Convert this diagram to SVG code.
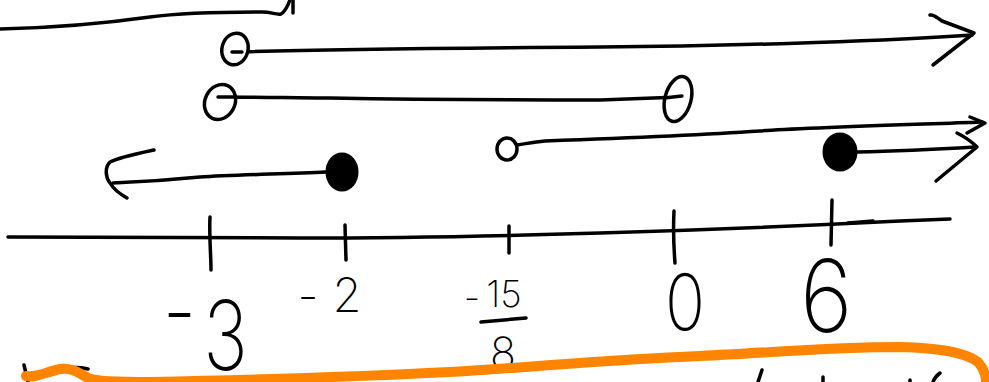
<svg xmlns="http://www.w3.org/2000/svg" width="989" height="382" viewBox="0 0 989 382">
<style>
.ink{fill:none;stroke:#000;stroke-width:3.5;stroke-linecap:round;stroke-linejoin:round}
.open{fill:#fff;stroke:#000;stroke-width:3.5}
.dot{fill:#000;stroke:#000;stroke-width:3}
.hl{fill:none;stroke:#ff8500;stroke-width:10;stroke-linecap:round;stroke-linejoin:round}
.lbl{font-family:Inter,"Liberation Sans",sans-serif;font-weight:200;fill:#000;text-anchor:middle}
</style>
<rect width="989" height="382" fill="#fff"/>
<g id="connectors">
  <path class="ink" d="M0,29 C50,28 100,24 150,17 C180,13 230,12 262,12 C272,12 276,15 281,14 C285,12 287,8 290,0"/>
  <path class="ink" d="M293,0 L293,13"/>
  <path class="ink" d="M240,52 C300,50 450,48 600,47 S900,40 972,35"/>
  <path class="ink" d="M930,15 C934,14 937,18 942,21 L974,33 L933,65"/>
  <path class="ink" d="M219,97 C260,97 300,98 330,98 C450,100 560,100 600,100 L680,97"/>
  <path class="ink" d="M517,145 C530,143 535,142 545,141 C600,139 700,135 760,131 C800,128 900,125 982,122"/>
  <path class="ink" d="M970,117 L985,123 L967,133"/>
  <path class="ink" d="M857,152 C900,151 940,149 975,147"/>
  <path class="ink" d="M957,133 C965,137 972,142 977,147 L936,181"/>
  <path class="ink" d="M326,172 C280,174 233,175 200,177 C170,180 140,182 113,183"/>
  <path class="ink" d="M154,150 C140,153 120,157 110,162 C104,168 106,178 110,183 C114,190 120,194 127,198"/>
</g>
<g id="axis">
  <path class="ink" d="M8,237 C100,238 200,238 300,238 C400,238 500,236 600,233 C700,230 800,226 900,221 L950,219"/>
  <path class="ink" d="M848,223 L873,221"/>
  <path class="ink" d="M210,217 C209,235 211,255 211,270"/>
  <path class="ink" d="M345,225 L346,260"/>
  <path class="ink" d="M509,226 L509,253"/>
  <path class="ink" d="M674,211 C673,230 674,250 675,263"/>
  <path class="ink" d="M832,200 L831,245"/>
</g>
<g id="point-open-1"><ellipse class="open" cx="235" cy="49" rx="13" ry="16" transform="rotate(15 235 49)"/><path class="ink" d="M232,52 L242,52"/></g>
<g id="point-open-2"><ellipse class="open" cx="220" cy="102" rx="15" ry="18" transform="rotate(25 220 102)"/><path class="ink" d="M218,97 L236,97"/></g>
<g id="point-open-3"><ellipse class="open" cx="678" cy="99" rx="13" ry="23" transform="rotate(15 678 99)"/><path class="ink" d="M664,98 L682,96"/></g>
<g id="point-open-4"><ellipse class="open" cx="507" cy="149" rx="10" ry="11"/></g>
<g id="point-closed-1"><ellipse class="dot" cx="342" cy="172" rx="15" ry="18"/></g>
<g id="point-closed-2"><ellipse class="dot" cx="840" cy="152" rx="16" ry="18"/></g>
<g id="label-neg3"><text class="lbl" transform="scale(0.78,1)" font-size="96"><tspan x="230" y="345">-</tspan><tspan x="289" y="370">3</tspan></text></g>
<g id="label-neg2"><text class="lbl" font-size="47"><tspan x="308" y="313">-</tspan><tspan x="347" y="312">2</tspan></text></g>
<g id="label-neg15-8"><text class="lbl" font-size="37"><tspan x="472" y="311">-</tspan><tspan x="504" y="307">15</tspan></text><path class="ink" d="M481,322 L526,318"/><text class="lbl" font-size="43" x="503" y="368">8</text></g>
<g id="label-0"><text class="lbl" font-size="78" transform="scale(0.85,1)" x="806" y="330">0</text></g>
<g id="label-6"><text class="lbl" font-size="100" transform="scale(0.9,1)" x="918" y="332">6</text></g>
<g id="underline">
  <path class="ink" d="M455,370 C550,365 650,358 800,352"/>
  <path class="ink" d="M973,360 C982,366 987,374 989,382"/>
  <path class="ink" d="M24,365 L28,382"/>
  <path class="ink" d="M50,373 C60,368 75,366 88,369"/>
  <path class="ink" d="M762,370 L758,382"/>
  <path class="ink" d="M823,377 L823,382"/>
  <path class="ink" d="M910,380 L910,382"/>
  <path class="ink" d="M940,373 C936,376 934,379 933,382"/>
  <path class="hl" d="M26,376 C36,378 46,372 60,369 C72,367 80,374 88,378 C95,381 110,382 150,382 C250,380 350,377 450,372 C550,366 600,360 700,356 C780,352 830,347 900,347 C940,348 965,352 978,362 C985,370 986,378 986,382"/>
</g>
</svg>
